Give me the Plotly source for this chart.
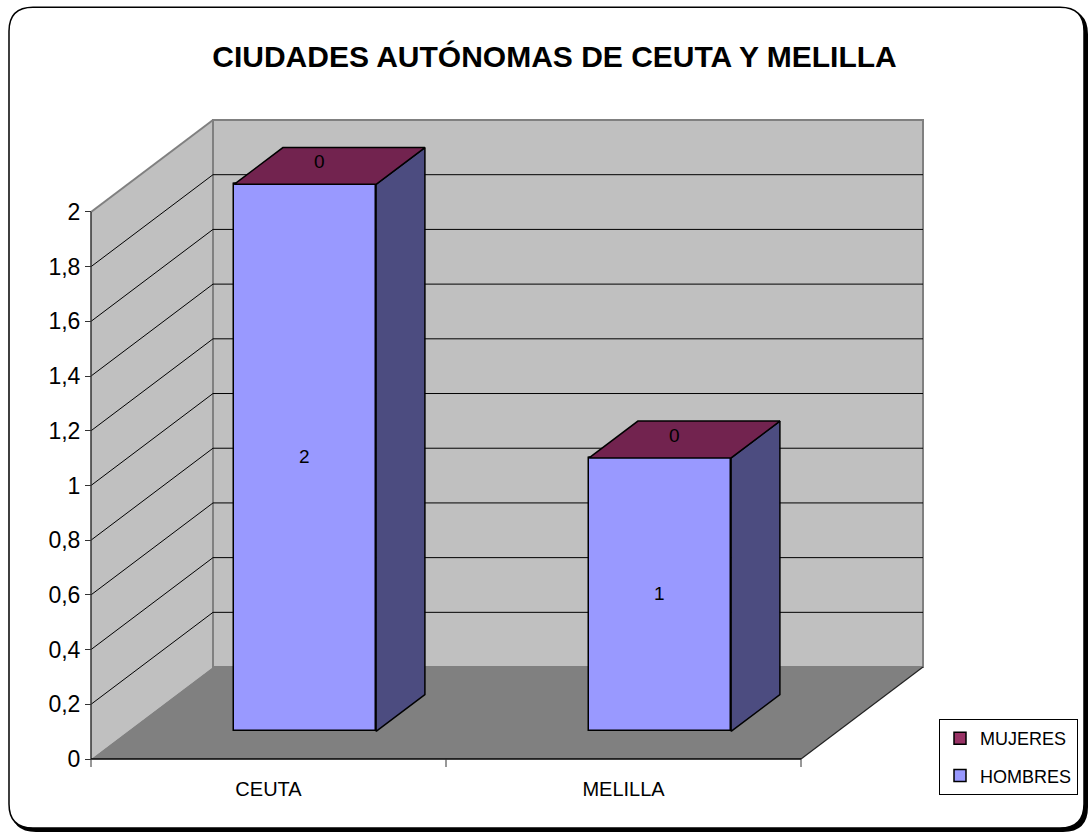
import plotly.graph_objects as go

# ---------------- data ----------------
categories = ["CEUTA", "MELILLA"]
hombres = [2, 1]
mujeres = [0, 0]
series_names = ["HOMBRES", "MUJERES"]
y_ticks = [0, 0.2, 0.4, 0.6, 0.8, 1.0, 1.2, 1.4, 1.6, 1.8, 2.0]
title_text = "CIUDADES AUTÓNOMAS DE CEUTA Y MELILLA"

# ---------------- styling / geometry ----------------
W, H = 1090, 834
SX = 355.0          # px per category
SY = 273.65         # px per value unit
DX = 122.0 / SX     # depth offset (category units)
DY = 92.0 / SY      # depth offset (value units)
PAD = 10.0
ORIG_X, ORIG_Y = 91.0, 759.0   # pixel of front-left-bottom corner
FRONT_F, BAR_D = 0.3, 0.4      # bar front position and depth (fractions of depth)
BAR_W = 0.4

FRONT_COL = "#9999FF"
SIDE_COL = "#4C4C80"
TOP_COL = "#72234F"
MUJ_COL = "#993366"
WALL_COL = "#C0C0C0"
FLOOR_COL = "#808080"
EDGE_COL = "#808080"
FONT = "Arial, 'Liberation Sans', sans-serif"

n = len(categories)
ymax = max(y_ticks)
left_px = ORIG_X - PAD
right_px = ORIG_X + SX * (n + DX) + PAD
bottom_px = ORIG_Y + PAD
top_px = ORIG_Y - SY * (ymax + DY) - PAD
plot_w = right_px - left_px
plot_h = bottom_px - top_px

xr = [-0.5 - PAD / SX, n - 0.5 + DX + PAD / SX]
yr = [-PAD / SY, ymax + DY + PAD / SY]


def p2paper(px, py):
    return ((px - left_px) / plot_w, (bottom_px - py) / plot_h)


fig = go.Figure()

# ---------------- bars ----------------
b0 = FRONT_F * DY
cx = [i + FRONT_F * DX for i in range(n)]

fig.add_trace(go.Bar(
    x=cx, y=hombres, base=[b0] * n, width=BAR_W, name=series_names[0],
    marker=dict(color=FRONT_COL, line=dict(color="black", width=1.5)),
    text=[str(v) for v in hombres], textposition="inside", insidetextanchor="middle",
    textangle=0, insidetextfont=dict(size=19, color="black", family=FONT),
    legendgroup="h", legendrank=2, hoverinfo="skip",
))
fig.add_trace(go.Bar(
    x=cx, y=mujeres, base=[b0 + h for h in hombres], width=BAR_W, name=series_names[1],
    marker=dict(color=MUJ_COL, line=dict(color="black", width=1.5)),
    legendgroup="m", legendrank=1, hoverinfo="skip",
))

ddx, ddy = BAR_D * DX, BAR_D * DY
for i in range(n):
    xl, xrt = cx[i] - BAR_W / 2, cx[i] + BAR_W / 2
    top = b0 + hombres[i] + mujeres[i]
    ht = b0 + hombres[i]
    # side face (hombres segment)
    fig.add_trace(go.Scatter(
        x=[xrt, xrt, xrt + ddx, xrt + ddx, xrt],
        y=[b0, ht, ht + ddy, b0 + ddy, b0],
        mode="lines", fill="toself", fillcolor=SIDE_COL,
        line=dict(color="black", width=1.5), showlegend=False, hoverinfo="skip"))
    # top face (mujeres on top of stack)
    fig.add_trace(go.Scatter(
        x=[xl, xrt, xrt + ddx, xl + ddx, xl],
        y=[top, top, top + ddy, top + ddy, top],
        mode="lines", fill="toself", fillcolor=TOP_COL,
        line=dict(color="black", width=1.5), showlegend=False, hoverinfo="skip"))
    fig.add_annotation(x=cx[i] + ddx / 2, y=top + ddy / 2, text=str(mujeres[i]),
                       showarrow=False, xshift=-10, yshift=4,
                       font=dict(size=19, color="black", family=FONT))

# ---------------- frame, walls, floor, grid ----------------
shapes = []


def rounded(x0, y0, x1, y1, r):
    def P(x, y):
        a, b = p2paper(x, y)
        return f"{a:.5f},{b:.5f}"
    return (f"M{P(x0 + r, y0)} L{P(x1 - r, y0)} Q{P(x1, y0)} {P(x1, y0 + r)} "
            f"L{P(x1, y1 - r)} Q{P(x1, y1)} {P(x1 - r, y1)} L{P(x0 + r, y1)} "
            f"Q{P(x0, y1)} {P(x0, y1 - r)} L{P(x0, y0 + r)} Q{P(x0, y0)} {P(x0 + r, y0)} Z")


shapes.append(dict(type="path", xref="paper", yref="paper", layer="below",
                   path=rounded(12, 10, 1087, 831, 24), fillcolor="black",
                   line=dict(color="black", width=2)))
shapes.append(dict(type="path", xref="paper", yref="paper", layer="below",
                   path=rounded(9, 7, 1084, 828, 24), fillcolor="white",
                   line=dict(color="black", width=1.5)))

x_front_l, x_front_r = -0.5, n - 0.5
# left wall
shapes.append(dict(type="path", xref="x", yref="y", layer="below",
                   path=f"M{x_front_l},0 L{x_front_l},{ymax} L{x_front_l + DX},{ymax + DY} L{x_front_l + DX},{DY} Z",
                   fillcolor=WALL_COL, line=dict(width=0)))
# back wall
shapes.append(dict(type="rect", xref="x", yref="y", layer="below",
                   x0=x_front_l + DX, x1=x_front_r + DX, y0=DY, y1=ymax + DY,
                   fillcolor=WALL_COL, line=dict(color=EDGE_COL, width=2)))
# floor
shapes.append(dict(type="path", xref="x", yref="y", layer="below",
                   path=f"M{x_front_l},0 L{x_front_r},0 L{x_front_r + DX},{DY} L{x_front_l + DX},{DY} Z",
                   fillcolor=FLOOR_COL, line=dict(width=0)))
# gridlines
for v in y_ticks:
    if v == 0 or v == ymax:
        continue
    shapes.append(dict(type="line", xref="x", yref="y", layer="below",
                       x0=x_front_l + DX, x1=x_front_r + DX, y0=v + DY, y1=v + DY,
                       line=dict(color="black", width=1)))
    shapes.append(dict(type="line", xref="x", yref="y", layer="below",
                       x0=x_front_l, x1=x_front_l + DX, y0=v, y1=v + DY,
                       line=dict(color="black", width=1)))
# left wall top edge
shapes.append(dict(type="line", xref="x", yref="y", layer="below",
                   x0=x_front_l, x1=x_front_l + DX, y0=ymax, y1=ymax + DY,
                   line=dict(color=EDGE_COL, width=2)))
# floor right edge
shapes.append(dict(type="line", xref="x", yref="y", layer="below",
                   x0=x_front_r, x1=x_front_r + DX, y0=0, y1=DY,
                   line=dict(color="#222222", width=1.2)))
# axis lines
shapes.append(dict(type="line", xref="x", yref="y", layer="below",
                   x0=x_front_l, x1=x_front_l, y0=0, y1=ymax,
                   line=dict(color="#333333", width=1.5)))
shapes.append(dict(type="line", xref="x", yref="y", layer="below",
                   x0=x_front_l, x1=x_front_r, y0=0, y1=0,
                   line=dict(color="black", width=1.5)))
# category boundary ticks
for i in range(n + 1):
    shapes.append(dict(type="line", xref="x", yref="y", layer="below",
                       x0=i - 0.5, x1=i - 0.5, y0=0, y1=-8 / SY,
                       line=dict(color="#333333", width=1)))

fig.update_layout(
    width=W, height=H,
    margin=dict(l=left_px, r=W - right_px, t=top_px, b=H - bottom_px, pad=0),
    paper_bgcolor="white", plot_bgcolor="rgba(0,0,0,0)",
    separators=",.",
    font=dict(family=FONT, color="black"),
    barmode="overlay", bargap=0,
    shapes=shapes,
    title=dict(text=f"<b>{title_text}</b>", x=554.5 / W, xref="container", xanchor="center",
               y=1 - 56 / H, yref="container", yanchor="middle",
               font=dict(size=30, family=FONT, color="black")),
    legend=dict(x=p2paper(939, 0)[0], y=p2paper(0, 719)[1], xanchor="left", yanchor="top",
                bgcolor="white", bordercolor="black", borderwidth=1,
                font=dict(size=18, family=FONT, color="black"),
                traceorder="grouped", tracegroupgap=11),
    showlegend=True,
    xaxis=dict(range=xr, showgrid=False, zeroline=False, showline=False,
               tickmode="array", tickvals=list(range(n)), ticktext=categories,
               ticks="outside", ticklen=12, tickcolor="rgba(0,0,0,0)",
               tickfont=dict(size=20, family=FONT, color="black"),
               anchor="free", position=PAD / plot_h, fixedrange=True),
    yaxis=dict(range=yr, showgrid=False, zeroline=False, showline=False,
               tickmode="array", tickvals=y_ticks,
               ticktext=[f"{v:g}".replace(".", ",") for v in y_ticks],
               ticks="outside", ticklen=6, tickcolor="#333333", tickwidth=1,
               tickfont=dict(size=23, family=FONT, color="black"),
               anchor="free", position=PAD / plot_w, fixedrange=True),
)

fig.write_html("out.html", config={"displayModeBar": False},
               post_script="document.body.style.margin='0';")
